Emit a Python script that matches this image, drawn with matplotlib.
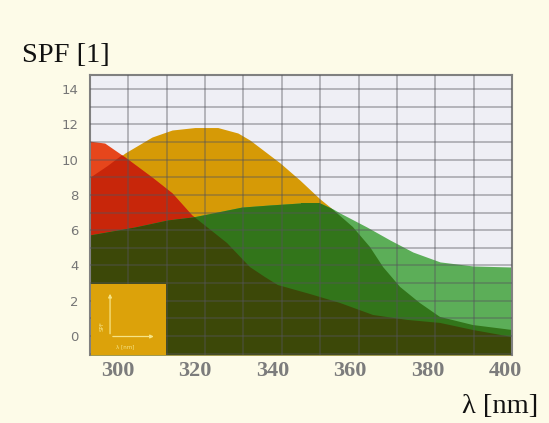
import numpy as np
import matplotlib
matplotlib.use("Agg")
import matplotlib.pyplot as plt
from matplotlib.ticker import FixedLocator, MultipleLocator

# SPF curves, read as (wavelength nm, SPF)
red_nm = [292.8, 296.6, 301.8, 308.8, 314.0, 319.1, 328.2, 334.1, 338.0, 341.3,
          349.6, 357.4, 365.9, 374.7, 383.2, 391.7, 401.8]
red_spf = [11.05, 10.94, 10.15, 9.01, 8.11, 6.86, 5.27, 3.91, 3.34, 2.89,
           2.38, 1.87, 1.19, 0.91, 0.74, 0.34, -0.06]

orange_nm = [292.8, 297.4, 301.8, 308.8, 314.0, 319.9, 325.8, 331.0, 334.1, 341.9,
             347.0, 352.2, 354.8, 360.7, 365.1, 368.5, 372.9, 378.0, 383.2, 391.7, 401.8]
orange_spf = [8.96, 9.64, 10.37, 11.28, 11.68, 11.82, 11.82, 11.51, 11.11, 9.81,
              8.84, 7.77, 7.31, 6.18, 5.05, 3.91, 2.78, 1.87, 1.08, 0.62, 0.34]

green_nm = [292.8, 304.4, 312.9, 319.4, 328.2, 332.0, 339.3, 347.0, 352.2, 355.6,
            357.4, 364.3, 370.3, 376.2, 383.2, 391.7, 401.8]
green_spf = [5.73, 6.18, 6.58, 6.75, 7.14, 7.31, 7.43, 7.54, 7.54, 7.20,
             6.97, 6.18, 5.44, 4.76, 4.20, 3.97, 3.91]

x_ticks = [300, 320, 340, 360, 380, 400]
y_ticks = [0, 2, 4, 6, 8, 10, 12, 14]

c_red = '#e6461c'
c_red_deep = '#c8260a'
c_orange = '#d69a06'
c_green_light = '#5cae58'
c_green_mid = '#32751a'
c_olive = '#3c4808'

xmin, xmax = 292.8, 401.8
ymin, ymax = -1.08, 14.8
base = ymin

fig = plt.figure(figsize=(5.49, 4.23), dpi=100, facecolor='#fdfbe8')
ax = fig.add_axes([90/549, 1-355/423, 422/549, 280/423])
ax.set_facecolor('#efeff5')

f_orange = ax.fill_between(orange_nm, base, orange_spf, color=c_orange, lw=0, zorder=1.0)
f_red = ax.fill_between(red_nm, base, red_spf, color=c_red, lw=0, zorder=1.1)
# red under the orange curve turns deeper
f = ax.fill_between(red_nm, base, red_spf, color=c_red_deep, lw=0, zorder=1.2)
f.set_clip_path(f_orange.get_paths()[0], ax.transData)

ax.fill_between(green_nm, base, green_spf, color=c_green_light, lw=0, zorder=1.3)
f = ax.fill_between(green_nm, base, green_spf, color=c_green_mid, lw=0, zorder=1.4)
f.set_clip_path(f_orange.get_paths()[0], ax.transData)
f = ax.fill_between(green_nm, base, green_spf, color=c_olive, lw=0, zorder=1.5)
f.set_clip_path(f_red.get_paths()[0], ax.transData)

ax.set_xlim(xmin, xmax)
ax.set_ylim(ymin, ymax)

# grid sits on top of the filled areas
ax.set_axisbelow(False)
ax.xaxis.set_major_locator(FixedLocator(x_ticks))
ax.xaxis.set_minor_locator(FixedLocator(np.linspace(xmin, xmax, 12)[1:-1]))
ax.yaxis.set_major_locator(FixedLocator(y_ticks))
ax.yaxis.set_minor_locator(MultipleLocator(1))
ax.grid(which='minor', axis='x', color='#55555c', alpha=0.45, lw=1.2)
ax.grid(which='both', axis='y', color='#55555c', alpha=0.45, lw=1.2)
ax.tick_params(which='both', length=0)
ax.tick_params(axis='y', pad=8, labelsize=9.5, labelcolor='#767676')
ax.tick_params(axis='x', pad=4, labelcolor='#7c7c7c')
for lab in ax.get_xticklabels():
    lab.set_family('Liberation Serif')
    lab.set_fontweight('bold')
    lab.set_fontsize(16)

for s in ['left', 'top', 'right']:
    ax.spines[s].set_color('#808080')
    ax.spines[s].set_linewidth(1.5)
ax.spines['bottom'].set_visible(False)

# small legend box in the lower left corner
ins = ax.inset_axes([0.003, 0.0, 0.178, 0.254], zorder=5)
ins.set_facecolor('#dca20a')
ins.set_xlim(0, 1)
ins.set_ylim(0, 1)
ins.set_xticks([])
ins.set_yticks([])
for s in ins.spines.values():
    s.set_visible(False)
arr = dict(arrowstyle='-|>', color='#f6e486', lw=0.9, mutation_scale=5)
ins.annotate('', xy=(0.25, 0.9), xytext=(0.25, 0.26), arrowprops=arr)
ins.annotate('', xy=(0.87, 0.26), xytext=(0.25, 0.26), arrowprops=arr)
ins.text(0.15, 0.4, 'SPF', rotation=90, fontsize=4, color='#f6e486',
         ha='center', va='center')
ins.text(0.45, 0.12, 'λ [nm]', fontsize=4, color='#f6e486', ha='center', va='center')

fig.text(22/549, 1-62/423, 'SPF [1]', family='Liberation Serif', fontsize=20.5,
         color='#111111', va='baseline', ha='left')
fig.text(538/549, 1-413/423, 'λ [nm]', family='Liberation Serif', fontsize=20.5,
         color='#111111', va='baseline', ha='right')

fig.savefig('out.png', dpi=100, facecolor=fig.get_facecolor())
